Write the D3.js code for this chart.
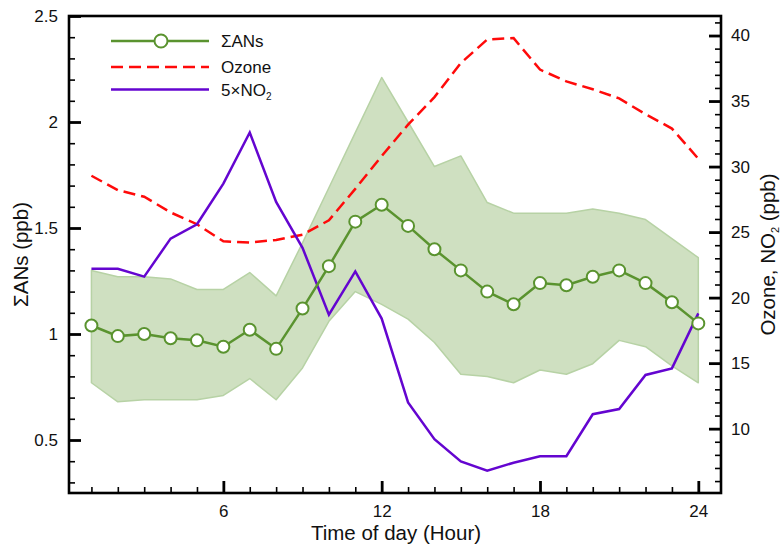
<!DOCTYPE html>
<html>
<head>
<meta charset="utf-8">
<script src="https://cdn.jsdelivr.net/npm/d3@7"></script>
<style>
  html, body { margin: 0; padding: 0; background: #fff; }
  svg text { font-family: "Liberation Sans", Arial, Helvetica, sans-serif; fill: #111; }
</style>
</head>
<body>
<svg id="chart" width="783" height="549"></svg>
<script>
// ---------- data ----------
const hours = [1,2,3,4,5,6,7,8,9,10,11,12,13,14,15,16,17,18,19,20,21,22,23,24];
const sigmaANs = [1.04,0.99,1.00,0.98,0.97,0.94,1.02,0.93,1.12,1.32,1.53,1.61,1.51,1.40,1.30,1.20,1.14,1.24,1.23,1.27,1.30,1.24,1.15,1.05];
const sigmaUpper = [1.30,1.27,1.27,1.26,1.21,1.21,1.29,1.18,1.43,1.69,1.95,2.21,2.00,1.79,1.84,1.62,1.57,1.57,1.57,1.59,1.57,1.54,1.45,1.36];
const sigmaLower = [0.77,0.68,0.69,0.69,0.69,0.71,0.79,0.69,0.84,1.06,1.20,1.14,1.07,0.96,0.81,0.80,0.77,0.83,0.81,0.86,0.97,0.94,0.85,0.77];
const ozone = [29.3,28.2,27.7,26.5,25.6,24.3,24.2,24.4,24.8,25.9,28.3,30.8,33.2,35.3,37.9,39.7,39.8,37.4,36.5,35.9,35.2,34.0,32.9,30.6];
const no2x5 = [22.2,22.2,21.6,24.5,25.6,28.7,32.6,27.3,23.8,18.7,22.0,18.4,12.0,9.2,7.5,6.8,7.4,7.9,7.9,11.1,11.5,14.1,14.6,18.8];

const xTicks = [6,12,18,24];
const xMinorTicks = hours;
const yLeftTicks = [0.5,1,1.5,2,2.5];
const yLeftTickLabels = ["0.5","1","1.5","2","2.5"];
const yLeftMinor = [0.3,0.4,0.6,0.7,0.8,0.9,1.1,1.2,1.3,1.4,1.6,1.7,1.8,1.9,2.1,2.2,2.3,2.4];
const yRightTicks = [10,15,20,25,30,35,40];
const yRightMinor = [6,7,8,9,11,12,13,14,16,17,18,19,21,22,23,24,26,27,28,29,31,32,33,34,36,37,38,39,41];

const legendItems = ["ΣANs", "Ozone", "5×NO"];

// ---------- layout ----------
const L = 69, R = 721, T = 16, B = 493;
const colGreen = "#5a932f", colBand = "#cfe0c1", colBandEdge = "#b7d2a5";
const colRed = "#ff0a0a", colPurple = "#6405d0";

const svg = d3.select("#chart");
const x = d3.scaleLinear().domain([0.15, 24.86]).range([L, R]);
const y = d3.scaleLinear().domain([0.25, 2.5]).range([B, T]);
const yR = d3.scaleLinear().domain([5.09, 41.49]).range([B, T]);

const plot = svg.append("g");

// band
const bandData = hours.map((h,i) => ({h, lo: sigmaLower[i], hi: sigmaUpper[i]}));
plot.append("path")
  .datum(bandData)
  .attr("d", d3.area().x(d => x(d.h)).y0(d => y(d.lo)).y1(d => y(d.hi)))
  .attr("fill", colBand)
  .attr("stroke", colBandEdge)
  .attr("stroke-width", 1.5)
  .attr("stroke-linejoin", "round");

// ozone
plot.append("path")
  .datum(hours.map((h,i) => [h, ozone[i]]))
  .attr("d", d3.line().x(d => x(d[0])).y(d => yR(d[1])))
  .attr("fill", "none").attr("stroke", colRed).attr("stroke-width", 2.5)
  .attr("stroke-dasharray", "12,6");

// NO2
plot.append("path")
  .datum(hours.map((h,i) => [h, no2x5[i]]))
  .attr("d", d3.line().x(d => x(d[0])).y(d => yR(d[1])))
  .attr("fill", "none").attr("stroke", colPurple).attr("stroke-width", 2.5)
  .attr("stroke-linejoin", "miter");

// sigma ANs
plot.append("path")
  .datum(hours.map((h,i) => [h, sigmaANs[i]]))
  .attr("d", d3.line().x(d => x(d[0])).y(d => y(d[1])))
  .attr("fill", "none").attr("stroke", colGreen).attr("stroke-width", 2.5);
plot.selectAll("circle.m")
  .data(hours.map((h,i) => [h, sigmaANs[i]]))
  .join("circle").attr("class","m")
  .attr("cx", d => x(d[0])).attr("cy", d => y(d[1])).attr("r", 6)
  .attr("fill", "#fff").attr("stroke", colGreen).attr("stroke-width", 2);

// ---------- axes ----------
function styleAxis(g, w) {
  g.select(".domain").remove();
  g.selectAll(".tick line").attr("stroke", "#000").attr("stroke-width", w);
  g.selectAll(".tick text").attr("font-size", 17).attr("fill", "#111")
   .style("font-family", '"Liberation Sans", Arial, Helvetica, sans-serif');
}
// bottom
svg.append("g").attr("transform", `translate(0,${B})`)
  .call(d3.axisBottom(x).tickValues(xMinorTicks.filter(v => !xTicks.includes(v))).tickSize(-6).tickSizeOuter(0).tickFormat(""))
  .call(g => styleAxis(g, 1.6));
svg.append("g").attr("transform", `translate(0,${B})`)
  .call(d3.axisBottom(x).tickValues(xTicks).tickSize(-12).tickSizeOuter(0).tickPadding(12).tickFormat(d3.format("d")))
  .call(g => styleAxis(g, 2.8));
// left
svg.append("g").attr("transform", `translate(${L},0)`)
  .call(d3.axisLeft(y).tickValues(yLeftMinor).tickSize(-6).tickSizeOuter(0).tickFormat(""))
  .call(g => styleAxis(g, 1.6));
svg.append("g").attr("transform", `translate(${L},0)`)
  .call(d3.axisLeft(y).tickValues(yLeftTicks).tickSize(-12).tickSizeOuter(0).tickPadding(11)
        .tickFormat((d,i) => yLeftTickLabels[i]))
  .call(g => styleAxis(g, 2.8));
// right
svg.append("g").attr("transform", `translate(${R},0)`)
  .call(d3.axisRight(yR).tickValues(yRightMinor).tickSize(-6).tickSizeOuter(0).tickFormat(""))
  .call(g => styleAxis(g, 1.6));
svg.append("g").attr("transform", `translate(${R},0)`)
  .call(d3.axisRight(yR).tickValues(yRightTicks).tickSize(-12).tickSizeOuter(0).tickPadding(10).tickFormat(d3.format("d")))
  .call(g => styleAxis(g, 2.8));

// frame
svg.append("rect").attr("x", L).attr("y", T).attr("width", R - L).attr("height", B - T)
  .attr("fill", "none").attr("stroke", "#000").attr("stroke-width", 2.6);

// titles
svg.append("text").attr("x", (L + R) / 2 + 1).attr("y", 540).attr("text-anchor", "middle")
  .attr("font-size", 20.5).text("Time of day (Hour)");
svg.append("text").attr("transform", `translate(28,${(T + B) / 2}) rotate(-90)`).attr("text-anchor", "middle")
  .attr("font-size", 20.5).text("ΣANs (ppb)");
const rt = svg.append("text").attr("transform", `translate(775,${(T + B) / 2}) rotate(-90)`).attr("text-anchor", "middle")
  .attr("font-size", 20.5);
rt.append("tspan").text("Ozone, NO");
rt.append("tspan").attr("font-size", 11).attr("dy", 4).text("2");
rt.append("tspan").attr("dy", -4).text(" (ppb)");

// legend
const lgX0 = 111, lgX1 = 209, lgText = 221, lgRows = [41, 67, 89.5];
const lg = svg.append("g");
lg.append("line").attr("x1", lgX0).attr("x2", lgX1).attr("y1", lgRows[0]).attr("y2", lgRows[0])
  .attr("stroke", colGreen).attr("stroke-width", 2.5);
lg.append("circle").attr("cx", (lgX0 + lgX1) / 2 + 1).attr("cy", lgRows[0]).attr("r", 6.5)
  .attr("fill", "#fff").attr("stroke", colGreen).attr("stroke-width", 2);
lg.append("line").attr("x1", lgX0).attr("x2", lgX1).attr("y1", lgRows[1]).attr("y2", lgRows[1])
  .attr("stroke", colRed).attr("stroke-width", 2.5).attr("stroke-dasharray", "12,6");
lg.append("line").attr("x1", lgX0).attr("x2", lgX1).attr("y1", lgRows[2]).attr("y2", lgRows[2])
  .attr("stroke", colPurple).attr("stroke-width", 2.5);
legendItems.forEach((t, i) => {
  const tx = lg.append("text").attr("x", lgText).attr("y", lgRows[i] + 6).attr("font-size", 17);
  tx.append("tspan").text(t);
  if (i === 2) tx.append("tspan").attr("font-size", 10).attr("dy", 4).text("2");
});
</script>
</body>
</html>
